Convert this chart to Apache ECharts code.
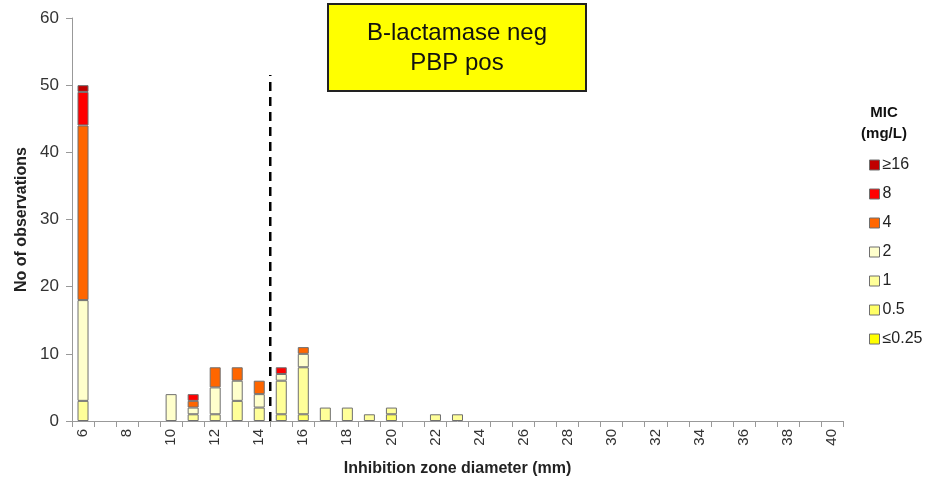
<!DOCTYPE html>
<html>
<head>
<meta charset="utf-8">
<script src="https://cdn.jsdelivr.net/npm/echarts@6/dist/echarts.min.js"></script>
<style>
  html, body { margin: 0; padding: 0; background: #fff; }
  #chart { width: 925px; height: 479px; }
</style>
</head>
<body>
<div id="chart"></div>
<script>
// zone diameters 6..40 mm
const diameters = []
for (let d = 6; d <= 40; d++) diameters.push(String(d))

// counts per MIC class, indexed from 6 mm
const micLe025 = [0,0,0,0,0,0,0,0,0,0,0,0,0,0,0,0,0,0,0,0,0,0,0,0,0,0,0,0,0,0,0,0,0,0,0]
const mic05    = [0,0,0,0,0,0,0,0,0,1,1,0,0,0,1,0,0,0,0,0,0,0,0,0,0,0,0,0,0,0,0,0,0,0,0]
const mic1     = [3,0,0,0,0,1,1,3,2,5,7,2,2,1,1,0,1,1,0,0,0,0,0,0,0,0,0,0,0,0,0,0,0,0,0]
const mic2     = [15,0,0,0,4,1,4,3,2,1,2,0,0,0,0,0,0,0,0,0,0,0,0,0,0,0,0,0,0,0,0,0,0,0,0]
const mic4     = [26,0,0,0,0,1,3,2,2,0,1,0,0,0,0,0,0,0,0,0,0,0,0,0,0,0,0,0,0,0,0,0,0,0,0]
const mic8     = [5,0,0,0,0,1,0,0,0,1,0,0,0,0,0,0,0,0,0,0,0,0,0,0,0,0,0,0,0,0,0,0,0,0,0]
const micGe16  = [1,0,0,0,0,0,0,0,0,0,0,0,0,0,0,0,0,0,0,0,0,0,0,0,0,0,0,0,0,0,0,0,0,0,0]

// breakpoint between 14 and 15 mm
const breakpoint = [[14.5, 0], [14.5, 51.5]]

const classes = [
  { name: '≤0.25', data: micLe025, color: '#FFFF00' },
  { name: '0.5', data: mic05, color: '#FFFF66' },
  { name: '1', data: mic1, color: '#FFFF99' },
  { name: '2', data: mic2, color: '#FFFFCC' },
  { name: '4', data: mic4, color: '#FF6600' },
  { name: '8', data: mic8, color: '#FF0000' },
  { name: '≥16', data: micGe16, color: '#C00000' }
]

const myChart = echarts.init(document.getElementById('chart'))

const barSeries = classes.map((c) => {
  return {
    name: c.name,
    type: 'bar',
    stack: 'mic',
    barWidth: '50%',
    // empty classes are left out so no outline is drawn for them
    data: c.data.map((v) => (v === 0 ? '-' : v)),
    itemStyle: { color: c.color, borderColor: '#6f6f6f', borderWidth: 1 }
  }
})

const option = {
  animation: false,
  textStyle: { fontFamily: 'Liberation Sans, Arial, sans-serif' },
  grid: { left: 72, right: 82, top: 18, bottom: 58, containLabel: false, outerBoundsMode: 'none' },
  legend: {
    orient: 'vertical',
    left: 864,
    top: 152,
    icon: 'rect',
    itemWidth: 10,
    itemHeight: 10,
    itemGap: 13,
    data: classes.map((c) => c.name).reverse(),
    textStyle: { fontSize: 16, color: '#222', padding: [0, 0, 0, -2] },
    itemStyle: { borderColor: '#6f6f6f', borderWidth: 1 }
  },
  xAxis: [
    {
      type: 'category',
      data: diameters,
      name: 'Inhibition zone diameter (mm)',
      nameLocation: 'middle',
      nameGap: 40,
      nameTextStyle: { fontSize: 16, fontWeight: 'bold', color: '#222' },
      axisLine: { lineStyle: { color: '#999' } },
      axisTick: { show: true, alignWithLabel: false, interval: 0, length: 6, lineStyle: { color: '#999' } },
      axisLabel: { interval: 1, rotate: 90, fontSize: 15, color: '#333', margin: 8 }
    },
    {
      type: 'value',
      min: 5.5,
      max: 40.5,
      show: false
    }
  ],
  yAxis: {
    type: 'value',
    min: 0,
    max: 60,
    interval: 10,
    name: 'No of observations',
    nameLocation: 'middle',
    nameGap: 42,
    nameTextStyle: { fontSize: 16, fontWeight: 'bold', color: '#222' },
    axisLine: { show: true, lineStyle: { color: '#999' } },
    axisTick: { show: true, length: 6, lineStyle: { color: '#999' } },
    axisLabel: { fontSize: 17, color: '#333', margin: 13 },
    splitLine: { show: false }
  },
  graphic: [
    {
      type: 'group',
      left: 327,
      top: 3,
      children: [
        {
          type: 'rect',
          shape: { x: 0, y: 0, width: 258, height: 87 },
          style: { fill: '#FFFF00', stroke: '#222', lineWidth: 2 }
        },
        {
          type: 'text',
          x: 129,
          y: 44,
          style: {
            text: 'B-lactamase neg\nPBP pos',
            fill: '#111',
            font: '24px Liberation Sans, Arial, sans-serif',
            align: 'center',
            verticalAlign: 'middle',
            lineHeight: 30
          }
        }
      ]
    },
    {
      type: 'text',
      x: 884,
      y: 102,
      style: {
        text: 'MIC\n(mg/L)',
        fill: '#111',
        font: 'bold 15px Liberation Sans, Arial, sans-serif',
        align: 'center',
        lineHeight: 21
      }
    }
  ],
  series: barSeries.concat([
    {
      type: 'line',
      xAxisIndex: 1,
      data: breakpoint,
      symbol: 'none',
      silent: true,
      lineStyle: { color: '#000', width: 2.5, type: [9, 6] }
    }
  ])
}

myChart.setOption(option)
</script>
</body>
</html>
